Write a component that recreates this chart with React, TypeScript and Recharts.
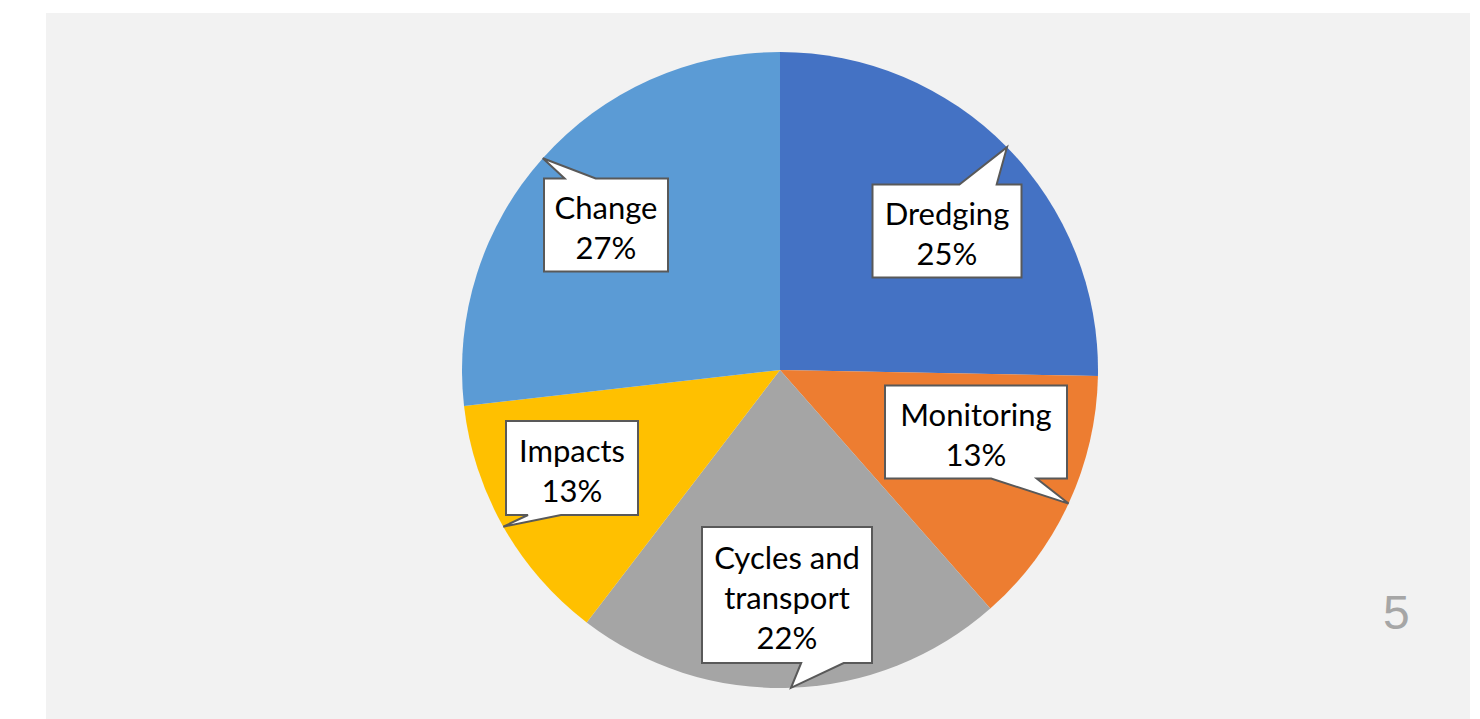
import React from 'react';
import { PieChart, Pie, Cell } from 'recharts';

const CATEGORIES = ['Dredging', 'Monitoring', 'Cycles and transport', 'Impacts', 'Change'];
const SHARES = [25.3, 13.2, 21.9, 12.8, 26.8];
const COLORS = ['#4472c4', '#ed7d31', '#a5a5a5', '#ffc000', '#5b9bd5'];

// callout boxes: centre offset from the pie centre and box size
const CALLOUTS = [
  { dx: 167, dy: -139, w: 149, h: 93 },
  { dx: 196, dy: 62, w: 182, h: 93 },
  { dx: 7, dy: 225, w: 170, h: 136 },
  { dx: -208, dy: 98, w: 132, h: 94 },
  { dx: -174, dy: -145, w: 124, h: 93 },
];

const data = CATEGORIES.map((name, i) => ({ name, value: SHARES[i] }));

const RAD = Math.PI / 180;

// word wrap like the office callouts do
const wrap = (text: string, max = 11) => {
  const out: string[] = [];
  let line = '';
  text.split(' ').forEach((word) => {
    if (line && (line + ' ' + word).length > max) {
      out.push(line);
      line = word;
    } else {
      line = line ? line + ' ' + word : word;
    }
  });
  if (line) out.push(line);
  return out;
};

// rectangle with a wedge pointing at (tx, ty), same rules as the OOXML wedgeRectCallout
const calloutPath = (l: number, t: number, w: number, h: number, tx: number, ty: number) => {
  const r = l + w;
  const b = t + h;
  const dxPos = tx - (l + w / 2);
  const dyPos = ty - (t + h / 2);
  const dq = (dxPos * h) / w;
  const dz = Math.abs(dyPos) - Math.abs(dq);
  const x1 = l + (w * (dxPos > 0 ? 7 : 2)) / 12;
  const x2 = l + (w * (dxPos > 0 ? 10 : 5)) / 12;
  const y1 = t + (h * (dyPos > 0 ? 7 : 2)) / 12;
  const y2 = t + (h * (dyPos > 0 ? 10 : 5)) / 12;
  const side = dz > 0 ? (dyPos < 0 ? 'top' : 'bottom') : dxPos < 0 ? 'left' : 'right';
  let d = `M${l},${t}`;
  if (side === 'top') d += ` L${x1},${t} L${tx},${ty} L${x2},${t}`;
  d += ` L${r},${t}`;
  if (side === 'right') d += ` L${r},${y1} L${tx},${ty} L${r},${y2}`;
  d += ` L${r},${b}`;
  if (side === 'bottom') d += ` L${x2},${b} L${tx},${ty} L${x1},${b}`;
  d += ` L${l},${b}`;
  if (side === 'left') d += ` L${l},${y2} L${tx},${ty} L${l},${y1}`;
  return d + ' Z';
};

const renderCallout = (props: any) => {
  const { cx, cy, midAngle, outerRadius, percent, index } = props;
  const name = props.payload?.name ?? props.name;
  const tipX = cx + outerRadius * Math.cos(-midAngle * RAD);
  const tipY = cy + outerRadius * Math.sin(-midAngle * RAD);
  const c = CALLOUTS[index];
  const bx = cx + c.dx;
  const by = cy + c.dy;
  const lines = [...wrap(name), `${Math.round(percent * 100)}%`];
  const lineH = 40;
  const top = by + 2 - ((lines.length - 1) * lineH) / 2;
  return (
    <g key={`callout-${index}`}>
      <path
        d={calloutPath(bx - c.w / 2, by - c.h / 2, c.w, c.h, tipX, tipY)}
        fill="#ffffff"
        stroke="#595959"
        strokeWidth={2}
      />
      {lines.map((ln, i) => (
        <text
          key={i}
          x={bx}
          y={top + i * lineH}
          textAnchor="middle"
          dominantBaseline="central"
          fontFamily="Lato, 'Noto Sans', sans-serif"
          fontSize={31}
          fill="#000000"
        >
          {ln}
        </text>
      ))}
    </g>
  );
};

export default function App() {
  return (
    <div style={{ position: 'relative', width: 1480, height: 719, background: '#ffffff', overflow: 'hidden' }}>
      <style>{'body{margin:0}'}</style>
      <div style={{ position: 'absolute', left: 46, top: 13, width: 1424, height: 706, background: '#f2f2f2' }} />
      <div style={{ position: 'absolute', left: 0, top: 0 }}>
        <PieChart width={1480} height={719} margin={{ top: 0, right: 0, bottom: 0, left: 0 }}>
          <Pie
            data={data}
            dataKey="value"
            nameKey="name"
            cx={780}
            cy={370}
            outerRadius={318}
            startAngle={90}
            endAngle={-270}
            stroke="none"
            label={renderCallout}
            labelLine={false}
            isAnimationActive={false}
          >
            {data.map((entry, index) => (
              <Cell key={`cell-${index}`} fill={COLORS[index % COLORS.length]} stroke="none" />
            ))}
          </Pie>
        </PieChart>
      </div>
      <div
        style={{
          position: 'absolute',
          left: 1383,
          top: 589,
          fontFamily: "'Liberation Sans', Arial, sans-serif",
          fontSize: 48,
          lineHeight: '48px',
          color: '#a6a6a6',
        }}
      >
        5
      </div>
    </div>
  );
}
